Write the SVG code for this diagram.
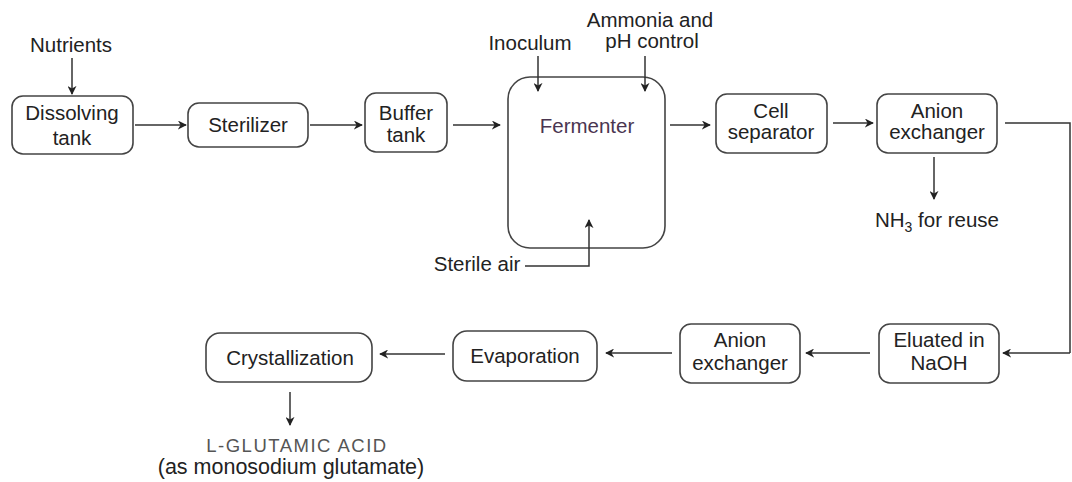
<svg xmlns="http://www.w3.org/2000/svg" width="1072" height="482" viewBox="0 0 1072 482">
  <defs>
    <marker id="arrow" viewBox="0 0 10 10" refX="9" refY="5" markerWidth="9" markerHeight="9" markerUnits="userSpaceOnUse" orient="auto">
      <path d="M0,0 L10,5 L0,10 L3,5 z" fill="#222"/>
    </marker>
    <style>
      .box { fill: #fff; stroke: #444; stroke-width: 1.6; }
      .lbl { font-family: "Liberation Sans", Arial, sans-serif; font-size: 20.5px; fill: #222; text-anchor: middle; }
      .note { font-family: "Liberation Sans", Arial, sans-serif; font-size: 20.5px; fill: #222; text-anchor: middle; }
      .prod { font-family: "Liberation Sans", Arial, sans-serif; font-size: 18.5px; fill: #555; text-anchor: middle; letter-spacing: 1.5px; }
      .wire { fill: none; stroke: #333; stroke-width: 1.5; }
      .arr { fill: none; stroke: #333; stroke-width: 1.5; marker-end: url(#arrow); }
    </style>
  </defs>
  <rect width="1072" height="482" fill="#fff"/>

  <!-- process units -->
  <g id="dissolving-tank">
    <rect class="box" x="12" y="96" width="121" height="58" rx="11"/>
    <text class="lbl" x="72" y="120">Dissolving</text>
    <text class="lbl" x="72" y="145">tank</text>
  </g>
  <g id="sterilizer">
    <rect class="box" x="188" y="103" width="120" height="44" rx="11"/>
    <text class="lbl" x="248" y="132">Sterilizer</text>
  </g>
  <g id="buffer-tank">
    <rect class="box" x="365" y="93" width="82" height="59" rx="11"/>
    <text class="lbl" x="406" y="120">Buffer</text>
    <text class="lbl" x="406" y="142">tank</text>
  </g>
  <g id="fermenter">
    <rect class="box" x="508" y="77" width="157" height="171" rx="22"/>
    <text class="lbl" x="587" y="133" style="fill:#4a3550">Fermenter</text>
  </g>
  <g id="cell-separator">
    <rect class="box" x="716" y="94" width="111" height="59" rx="11"/>
    <text class="lbl" x="771" y="118">Cell</text>
    <text class="lbl" x="771" y="139">separator</text>
  </g>
  <g id="anion-exchanger-1">
    <rect class="box" x="877" y="94" width="120" height="59" rx="11"/>
    <text class="lbl" x="937" y="118">Anion</text>
    <text class="lbl" x="937" y="139">exchanger</text>
  </g>
  <g id="eluated-naoh">
    <rect class="box" x="879" y="324" width="120" height="59" rx="11"/>
    <text class="lbl" x="939" y="347">Eluated in</text>
    <text class="lbl" x="939" y="370">NaOH</text>
  </g>
  <g id="anion-exchanger-2">
    <rect class="box" x="680" y="324" width="120" height="59" rx="11"/>
    <text class="lbl" x="740" y="347">Anion</text>
    <text class="lbl" x="740" y="370">exchanger</text>
  </g>
  <g id="evaporation">
    <rect class="box" x="453" y="331" width="144" height="50" rx="14"/>
    <text class="lbl" x="525" y="363">Evaporation</text>
  </g>
  <g id="crystallization">
    <rect class="box" x="206" y="333" width="166" height="49" rx="14"/>
    <text class="lbl" x="290" y="365">Crystallization</text>
  </g>

  <!-- inputs and outputs -->
  <g id="nutrients">
    <text class="note" x="71" y="52">Nutrients</text>
  </g>
  <g id="inoculum">
    <text class="note" x="530" y="50">Inoculum</text>
  </g>
  <g id="ammonia-ph">
    <text class="note" x="650" y="27">Ammonia and</text>
    <text class="note" x="652" y="48">pH control</text>
  </g>
  <g id="sterile-air">
    <text class="note" x="477" y="271">Sterile air</text>
  </g>
  <g id="nh3-reuse">
    <text class="note" x="937" y="227">NH<tspan font-size="14" dy="5">3</tspan><tspan dy="-5"> for reuse</tspan></text>
  </g>
  <g id="product">
    <text class="prod" x="297" y="452">L-GLUTAMIC  ACID</text>
    <text class="note" x="291" y="474" style="font-size:21.5px">(as monosodium glutamate)</text>
  </g>

  <!-- connectors -->
  <g id="connectors">
    <path class="arr" d="M72,58 V94"/>
    <path class="arr" d="M135,125 H186"/>
    <path class="arr" d="M310,125 H362"/>
    <path class="arr" d="M453,125 H500"/>
    <path class="arr" d="M538,56 V91"/>
    <path class="arr" d="M645,56 V91"/>
    <path class="arr" d="M525,266 H589 V220"/>
    <path class="arr" d="M670,125 H710"/>
    <path class="arr" d="M833,123 H873"/>
    <path class="arr" d="M934,157 V199"/>
    <path class="wire" d="M1005,123 H1070 V353"/>
    <path class="arr" d="M1070,353 H1003"/>
    <path class="arr" d="M870,353 H806"/>
    <path class="arr" d="M672,353 H606"/>
    <path class="arr" d="M445,354 H380"/>
    <path class="arr" d="M290,392 V425"/>
  </g>
</svg>
